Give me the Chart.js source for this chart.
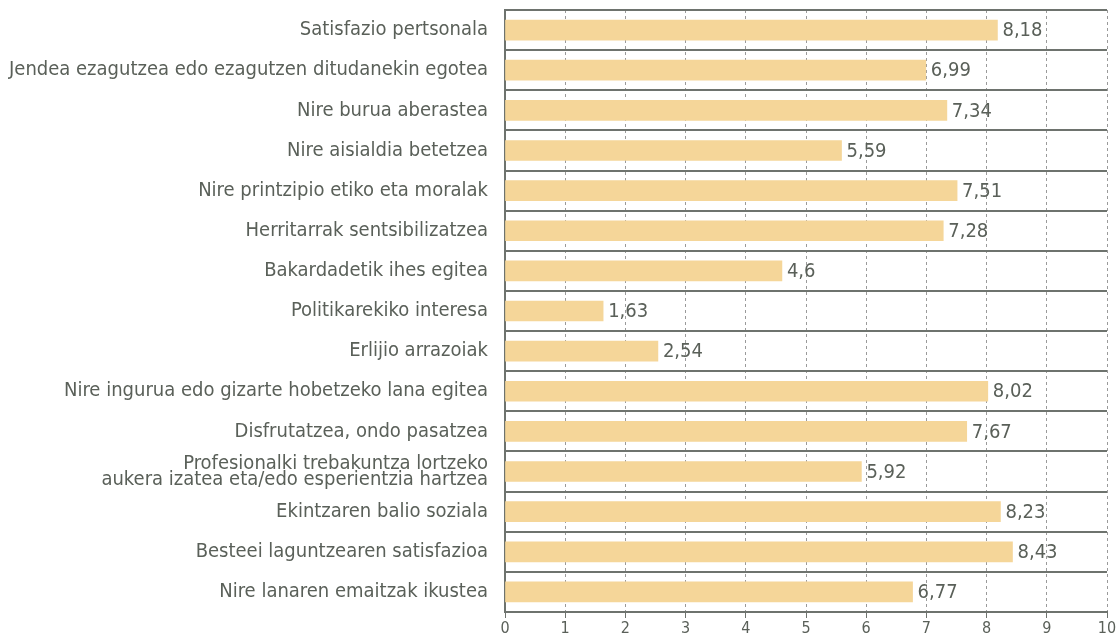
<!DOCTYPE html>
<html>
<head>
<meta charset="utf-8">
<script src="https://cdn.jsdelivr.net/npm/chart.js@4"></script>
<style>
  body { margin: 0; background: #fff; }
  #wrap { width: 1117px; height: 636px; }
</style>
</head>
<body>
<div id="wrap"><canvas id="chart" width="1117" height="636"></canvas></div>
<script>
const categories = [
  "Satisfazio pertsonala",
  "Jendea ezagutzea edo ezagutzen ditudanekin egotea",
  "Nire burua aberastea",
  "Nire aisialdia betetzea",
  "Nire printzipio etiko eta moralak",
  "Herritarrak sentsibilizatzea",
  "Bakardadetik ihes egitea",
  "Politikarekiko interesa",
  "Erlijio arrazoiak",
  "Nire ingurua edo gizarte hobetzeko lana egitea",
  "Disfrutatzea, ondo pasatzea",
  ["Profesionalki trebakuntza lortzeko", "aukera izatea eta/edo esperientzia hartzea"],
  "Ekintzaren balio soziala",
  "Besteei laguntzearen satisfazioa",
  "Nire lanaren emaitzak ikustea"
];
const values = [8.18, 6.99, 7.34, 5.59, 7.51, 7.28, 4.6, 1.63, 2.54, 8.02, 7.67, 5.92, 8.23, 8.43, 6.77];
const xTicks = [0, 1, 2, 3, 4, 5, 6, 7, 8, 9, 10];

const textColor = '#5a6059';
const lineColor = '#6e736e';
const fontFamily = '"DejaVu Sans Condensed", "DejaVu Sans", sans-serif';

// value labels right of each bar, decimal comma
const valueLabels = {
  id: 'valueLabels',
  afterDatasetsDraw(chart) {
    const ctx = chart.ctx;
    const meta = chart.getDatasetMeta(0);
    ctx.save();
    ctx.font = '20px ' + fontFamily;
    ctx.fillStyle = textColor;
    ctx.textAlign = 'left';
    ctx.textBaseline = 'middle';
    meta.data.forEach((bar, i) => {
      ctx.fillText(String(values[i]).replace('.', ','), bar.x + 5, bar.y + 1);
    });
    ctx.restore();
  }
};

new Chart(document.getElementById('chart'), {
  type: 'bar',
  data: {
    labels: categories,
    datasets: [{
      data: values,
      backgroundColor: '#f5d699',
      barThickness: 20
    }]
  },
  options: {
    indexAxis: 'y',
    responsive: false,
    devicePixelRatio: 1,
    animation: false,
    layout: { padding: { top: 10, right: 10, left: 0, bottom: 0 } },
    plugins: {
      legend: { display: false },
      tooltip: { enabled: false }
    },
    scales: {
      x: {
        min: 0,
        max: 10,
        afterBuildTicks: scale => { scale.ticks = xTicks.map(v => ({ value: v })); },
        afterFit: scale => { scale.height = 24; scale.paddingLeft = 0; scale.paddingRight = 0; },
        grid: {
          color: '#9a9a9a',
          lineWidth: 1,
          tickColor: lineColor,
          tickBorderDash: [],
          tickLength: 6
        },
        border: { display: true, color: lineColor, width: 2, dash: [3, 3] },
        ticks: {
          color: textColor,
          padding: 1,
          font: { family: fontFamily, size: 16 }
        }
      },
      y: {
        afterFit: scale => { scale.width = 505; scale.paddingTop = 0; scale.paddingBottom = 0; },
        grid: {
          offset: true,
          color: lineColor,
          lineWidth: 2,
          drawTicks: false
        },
        border: { display: true, color: lineColor, width: 2 },
        ticks: {
          color: textColor,
          padding: 17,
          font: { family: fontFamily, size: 20, lineHeight: 0.8 }
        }
      }
    }
  },
  plugins: [valueLabels]
});
</script>
</body>
</html>
